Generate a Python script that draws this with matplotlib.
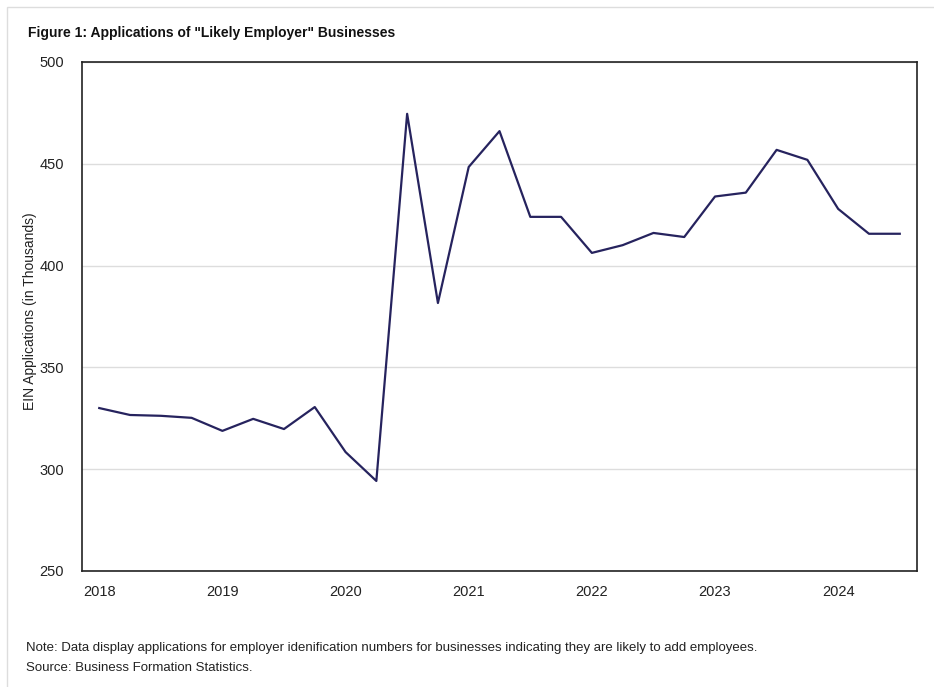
import matplotlib.pyplot as plt
from matplotlib.patches import Rectangle

# quarterly EIN applications, 2018Q1 .. 2024Q3 (thousands)
quarters = [2018 + i * 0.25 for i in range(27)]
applications = [330.0, 326.6, 326.2, 325.2, 318.8, 324.7, 319.7, 330.5,
                308.4, 294.2, 474.5, 381.6, 448.4, 466.0, 423.9, 423.9,
                406.2, 410.0, 416.0, 414.0, 433.9, 435.8, 456.8, 451.9,
                427.8, 415.6, 415.6]
year_ticks = [2018, 2019, 2020, 2021, 2022, 2023, 2024]
value_ticks = [250, 300, 350, 400, 450, 500]

plt.rcParams['font.family'] = ['Liberation Sans', 'DejaVu Sans']

fig = plt.figure(figsize=(9.34, 6.87), dpi=100)
ax = fig.add_axes([0.0878, 0.1689, 0.894, 0.741])

ax.plot(quarters, applications, color='#26235e', linewidth=1.6)

ax.set_xlim(2017.86, 2024.64)
ax.set_ylim(250, 500)
ax.set_xticks(year_ticks)
ax.set_xticklabels([str(y) for y in year_ticks])
ax.set_yticks(value_ticks)
ax.tick_params(length=0, labelsize=10.5, colors='#222222')
ax.tick_params(axis='x', pad=10)
ax.tick_params(axis='y', pad=13)
ax.grid(axis='y', color='#dddddd', linewidth=1)
ax.set_axisbelow(True)
for s in ax.spines.values():
    s.set_color('#222222')
    s.set_linewidth(1.2)

ax.set_ylabel('EIN Applications (in Thousands)', fontsize=10, color='#222222')
ax.yaxis.set_label_coords(-0.054, 0.51)

fig.text(0.030, 0.952, 'Figure 1: Applications of "Likely Employer" Businesses',
         fontsize=10, fontweight='bold', color='#111111', va='center')
fig.text(0.028, 0.057, 'Note: Data display applications for employer idenification numbers '
         'for businesses indicating they are likely to add employees.',
         fontsize=9.5, color='#222222', va='center')
fig.text(0.028, 0.028, 'Source: Business Formation Statistics.',
         fontsize=9.5, color='#222222', va='center')

fig.patches.append(Rectangle((0.0075, -0.01), 1.0, 1.0, transform=fig.transFigure,
                             fill=False, edgecolor='#dddddd', linewidth=1))

fig.savefig('out.png', dpi=100)
